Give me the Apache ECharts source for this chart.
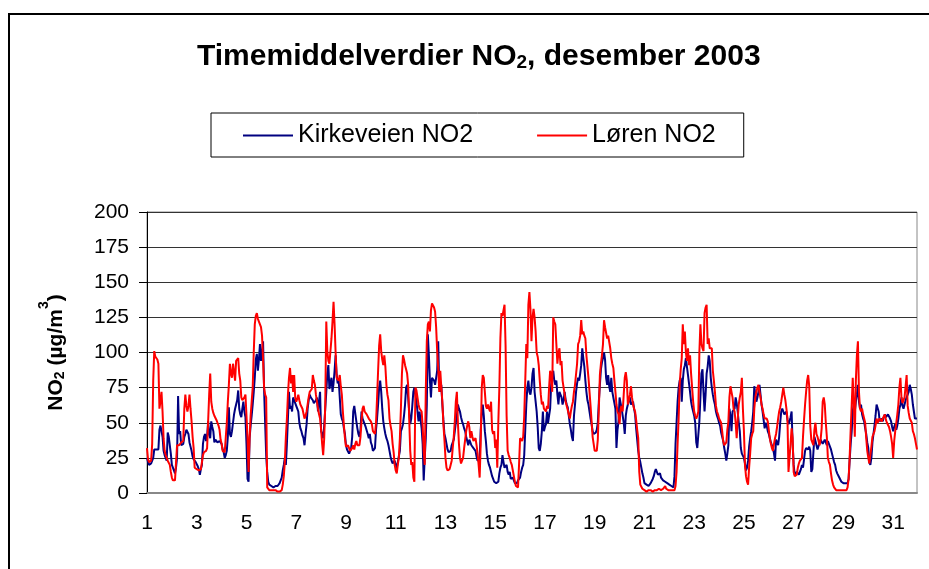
<!DOCTYPE html>
<html>
<head>
<meta charset="utf-8">
<script src="https://cdn.jsdelivr.net/npm/echarts@6/dist/echarts.min.js"></script>
<style>
html,body{margin:0;padding:0;background:#fff;}
#chart{width:929px;height:569px;}
</style>
</head>
<body>
<div id="chart"></div>
<script>
// Days of December 2003 (x axis categories, one point per hour)
const days = [1,2,3,4,5,6,7,8,9,10,11,12,13,14,15,16,17,18,19,20,21,22,23,24,25,26,27,28,29,30,31];
const yTicks = [0,25,50,75,100,125,150,175,200];
const seriesNames = ['Kirkeveien NO2', 'Løren NO2'];

// Hourly NO2 values (µg/m3), one row per day, 24 hours each
const kirkeveien = [
[25,22,20,19,21,23,25,31,31,31,32,31,45,48,48,40,30,27,25,23,43,40,39,28],
[20,18,16,14,18,25,69,42,44,34,33,35,40,42,45,44,42,36,33,30,26,24,23,22],
[21,19,17,13,17,20,35,40,42,37,40,51,42,39,51,47,44,36,38,39,36,35,37,36],
[35,31,29,25,27,30,40,61,42,40,44,50,56,60,63,66,73,60,56,54,60,65,58,54],
[35,10,8,39,48,55,63,72,82,95,99,87,95,106,94,100,108,73,50,27,15,8,6,5],
[5,4,4,3,5,4,5,6,7,9,11,16,20,25,20,35,53,72,60,62,58,68,66,64],
[63,60,58,50,46,44,41,39,34,42,49,60,66,70,68,68,66,64,63,66,68,58,65,72],
[44,42,39,48,60,72,85,91,74,78,82,72,78,87,98,84,78,80,68,56,53,51,46,42],
[34,31,30,28,27,32,40,58,62,63,51,46,42,40,45,58,53,51,49,47,46,42,39,42],
[36,34,30,30,32,45,53,63,75,80,72,60,51,46,42,39,37,34,30,26,23,21,20,23],
[20,18,22,26,30,44,46,49,55,63,75,77,68,58,49,53,62,72,75,70,65,58,51,58],
[52,46,35,9,25,39,63,113,98,80,68,82,82,80,77,82,87,108,75,72,77,63,52,42],
[39,35,31,29,28,30,34,33,38,44,50,55,63,60,58,54,51,49,46,44,40,37,34,38],
[36,34,33,32,31,30,26,23,22,24,45,56,63,55,44,37,28,23,20,18,15,12,10,8],
[8,7,6,8,14,18,20,27,22,18,19,20,15,13,15,10,9,11,9,7,6,7,9,10],
[11,15,18,20,27,45,63,75,80,72,70,75,85,89,72,65,58,47,32,30,35,44,58,44],
[47,49,58,50,55,60,77,82,87,80,77,80,70,63,72,70,68,63,66,72,66,63,61,55],
[49,45,40,37,55,63,72,78,82,80,85,91,103,96,90,80,72,66,63,58,53,49,44,42],
[42,43,45,50,65,77,88,93,96,100,95,82,77,84,76,72,82,72,68,64,60,32,45,51],
[68,64,60,55,50,42,55,60,63,66,68,63,64,65,60,56,46,38,30,25,22,18,14,11],
[7,6,6,5,5,6,7,8,10,12,15,17,16,13,12,14,11,10,9,8,8,8,7,6],
[6,6,5,5,4,12,35,50,65,75,80,82,65,80,88,91,96,90,84,78,72,65,61,58],
[55,50,36,32,32,51,68,85,88,72,58,70,85,90,98,94,82,75,70,66,63,58,55,53],
[50,48,43,40,37,32,28,23,28,34,60,55,44,58,58,60,68,64,58,50,44,32,28,27],
[25,21,16,18,23,33,39,44,50,58,76,70,65,68,72,77,70,63,58,52,46,50,48,44],
[42,39,36,34,32,28,23,38,37,34,40,50,58,60,58,56,57,58,52,49,51,54,58,35],
[20,13,14,15,14,13,15,17,20,18,24,30,32,33,31,33,30,15,17,18,40,40,34,31],
[32,36,38,38,35,36,38,36,34,37,35,34,31,28,25,22,20,16,14,13,11,10,8,8],
[7,7,7,6,7,10,23,35,44,58,63,58,65,70,77,65,60,63,56,53,51,46,42,36],
[32,22,20,25,36,42,48,55,63,62,58,51,52,53,51,54,56,54,53,56,55,53,51,47],
[44,47,49,45,48,53,60,63,68,62,60,63,66,68,69,72,77,74,70,63,58,53,53,53]
];

const loren = [
[32,24,22,22,23,35,80,101,97,96,95,92,60,65,72,58,39,30,27,25,23,22,20,15],
[11,9,9,9,10,34,34,34,35,36,37,37,60,70,62,58,62,70,60,51,40,32,18,17],
[17,17,16,17,17,18,27,29,30,30,32,51,70,85,65,60,57,55,54,52,50,48,45,38],
[35,30,29,29,30,50,65,77,92,85,82,92,86,80,94,95,96,85,80,68,66,65,68,70],
[55,39,15,39,55,65,75,100,120,126,128,124,122,120,118,112,95,75,70,68,4,3,2,2],
[2,2,2,2,2,2,1,1,1,1,2,6,12,22,40,53,70,82,89,78,84,72,84,68],
[65,67,70,66,63,63,60,60,53,55,58,63,68,72,72,74,84,80,77,70,65,60,56,53],
[45,35,27,39,63,122,101,94,92,91,110,122,136,120,100,82,81,80,84,76,70,58,48,39],
[33,32,34,32,30,31,32,34,31,35,37,34,33,34,40,51,60,62,58,57,56,55,53,53],
[51,49,44,43,42,50,68,87,105,113,101,95,91,98,90,77,70,66,53,48,44,35,29,20],
[16,14,20,25,39,60,85,98,95,91,88,85,77,53,30,20,22,11,8,75,73,72,63,60],
[60,58,48,30,20,72,108,120,122,115,130,135,136,132,129,118,101,89,72,87,75,65,49,38],
[25,18,16,15,17,20,23,32,40,51,65,72,50,35,25,21,22,25,32,38,44,48,51,47],
[39,44,40,37,38,39,34,28,20,11,35,75,84,82,72,62,60,63,60,58,65,45,42,44],
[32,38,18,50,75,110,128,126,125,134,105,55,30,27,25,22,20,16,12,8,5,4,4,20],
[39,38,37,40,55,80,106,96,134,143,131,108,125,131,125,115,100,97,91,80,70,63,65,60],
[59,58,62,60,75,87,84,72,125,122,120,106,92,100,103,91,94,80,75,70,65,62,59,56],
[53,58,62,65,72,77,78,92,106,108,112,123,113,115,112,110,98,90,82,72,62,51,40,35],
[30,29,30,38,60,84,92,98,106,123,118,117,110,112,113,103,96,92,89,80,72,63,58,56],
[49,60,62,58,70,82,86,80,63,66,70,76,68,63,60,58,52,45,39,15,6,5,3,2],
[2,1,1,1,2,2,2,1,1,1,2,2,2,3,3,3,2,2,3,4,5,3,2,2],
[2,2,2,2,2,2,5,15,35,53,77,88,96,120,106,115,100,94,103,91,98,85,75,65],
[58,55,53,55,58,100,120,106,103,101,128,132,134,106,110,103,104,103,87,80,72,62,58,56],
[53,52,50,44,37,34,34,36,45,51,68,76,72,68,60,58,50,39,52,63,68,72,82,60],
[44,20,12,8,6,18,28,39,42,44,60,68,72,75,77,72,68,63,60,56,53,53,53,51],
[45,39,35,32,30,35,39,42,47,53,58,61,65,70,75,70,66,60,53,15,16,35,46,39],
[15,12,12,13,18,21,23,24,25,40,52,63,72,80,84,76,48,38,36,34,45,50,42,40],
[37,34,38,46,65,68,63,50,40,25,22,20,14,9,6,4,3,2,2,2,2,2,2,2],
[2,2,2,2,4,10,25,45,63,82,63,40,80,98,108,72,60,58,60,56,53,50,39,30],
[25,21,20,33,40,42,44,48,53,50,49,53,52,51,53,54,56,52,50,49,47,44,40,35],
[25,37,44,50,56,63,75,82,68,64,63,68,76,84,62,57,53,52,50,44,42,39,35,31]
];

// Build hourly category axis and flat series from the arrays above
const hourCats = [];
days.forEach(d => { for (let h = 0; h < 24; h++) hourCats.push(h === 0 ? String(d) : d + ':' + h); });
const kirkeveienFlat = kirkeveien.flat();
const lorenFlat = loren.flat();

const chart = echarts.init(document.getElementById('chart'), null, {renderer: 'canvas'});
const FONT = 'Liberation Sans, Arial, Helvetica, sans-serif';

chart.setOption({
  animation: false,
  backgroundColor: '#ffffff',
  textStyle: {fontFamily: FONT},
  title: {
    left: 192,
    top: 31,
    text: '{a|Timemiddelverdier NO}{s|2}{a|, desember 2003}',
    textStyle: {
      rich: {
        a: {fontFamily: FONT, fontSize: 30, fontWeight: 'bold', color: '#000', lineHeight: 36, verticalAlign: 'bottom'},
        s: {fontFamily: FONT, fontSize: 19, fontWeight: 'bold', color: '#000', lineHeight: 16, verticalAlign: 'bottom'}
      }
    }
  },
  legend: {
    left: 211,
    top: 113,
    padding: [10, 28, 9, 32],
    borderColor: '#000',
    borderWidth: 1,
    itemGap: 64,
    itemWidth: 50,
    itemHeight: 2,
    icon: 'rect',
    data: seriesNames,
    textStyle: {fontFamily: FONT, fontSize: 25, color: '#000'}
  },
  grid: {
    left: 147,
    top: 212,
    right: 12,
    bottom: 76,
    show: true,
    borderColor: '#888',
    borderWidth: 1,
    backgroundColor: '#fff'
  },
  xAxis: {
    type: 'category',
    data: hourCats,
    boundaryGap: false,
    axisLine: {lineStyle: {color: '#888', width: 2}},
    axisTick: {show: false},
    splitLine: {show: false},
    axisLabel: {
      interval: (i) => i % 48 === 0,
      formatter: (v) => v.split(':')[0],
      fontFamily: FONT,
      fontSize: 21,
      color: '#000',
      margin: 20
    }
  },
  yAxis: {
    type: 'value',
    min: yTicks[0],
    max: yTicks[yTicks.length - 1],
    interval: 25,
    name: '{a|NO}{s|2}{a| (µg/m}{p|3}{a|)}',
    nameLocation: 'middle',
    nameGap: 80,
    nameRotate: 90,
    nameTextStyle: {
      rich: {
        a: {fontFamily: FONT, fontSize: 21, fontWeight: 'bold', color: '#000', lineHeight: 26, verticalAlign: 'bottom'},
        s: {fontFamily: FONT, fontSize: 14, fontWeight: 'bold', color: '#000', lineHeight: 14, verticalAlign: 'bottom'},
        p: {fontFamily: FONT, fontSize: 14, fontWeight: 'bold', color: '#000', lineHeight: 30, verticalAlign: 'top'}
      }
    },
    axisLine: {show: true, lineStyle: {color: '#000', width: 1}},
    axisTick: {show: true, inside: false, length: 8, lineStyle: {color: '#000'}},
    splitLine: {lineStyle: {color: '#333', width: 1}},
    axisLabel: {fontFamily: FONT, fontSize: 21, color: '#000', margin: 18}
  },
  series: [
    {
      name: seriesNames[0],
      type: 'line',
      data: kirkeveienFlat,
      symbol: 'none',
      color: '#000080',
      lineStyle: {color: '#000080', width: 2},
      z: 2
    },
    {
      name: seriesNames[1],
      type: 'line',
      data: lorenFlat,
      symbol: 'none',
      color: '#ff0000',
      lineStyle: {color: '#ff0000', width: 2},
      z: 3
    }
  ],
  graphic: [
    {
      type: 'rect',
      silent: true,
      shape: {x: 9, y: 14, width: 960, height: 620},
      style: {fill: 'none', stroke: '#000', lineWidth: 2},
      z: 100
    }
  ]
});
</script>
</body>
</html>
